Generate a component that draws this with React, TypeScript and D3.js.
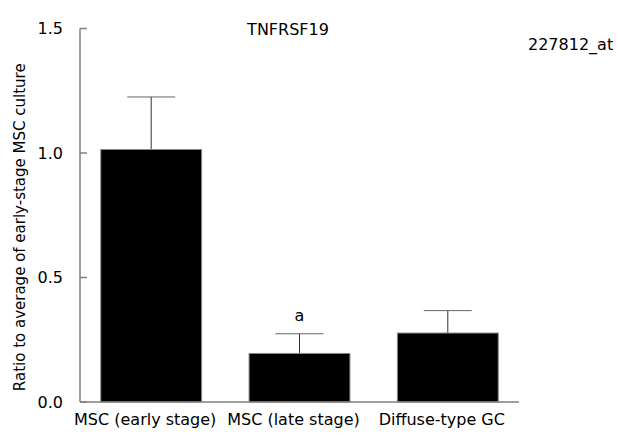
import React from 'react';
import * as d3 from 'd3';

const categories = ['MSC (early stage)', 'MSC (late stage)', 'Diffuse-type GC'];
const means = [1.014, 0.195, 0.277];
const errors = [0.211, 0.079, 0.090];
const marks = ['', 'a', ''];
const yTicks = [0, 0.5, 1.0, 1.5];

const FONT = 'DejaVu Sans, Verdana, sans-serif';

export default function App() {
  const width = 617, height = 438;
  const left = 80, right = 519, top = 28.5, bottom = 402;

  const x = d3.scaleBand<string>()
    .domain(categories)
    .range([left, right])
    .paddingInner(0.32)
    .paddingOuter(0.14);

  const y = d3.scaleLinear().domain([0, 1.5]).range([bottom, top]);
  const capW = 48;

  return (
    <svg width={width} height={height} style={{ position: 'absolute', left: 0, top: 0, background: '#fff' }}
      fontFamily={FONT}>
      {/* bars */}
      {categories.map((c, i) => {
        const x0 = x(c)!;
        const cx = x0 + x.bandwidth() / 2;
        const yTop = y(means[i]);
        const yErr = y(means[i] + errors[i]);
        return (
          <g key={c}>
            <line x1={cx} x2={cx} y1={yTop} y2={yErr} stroke="#333" strokeWidth={1} />
            <line x1={cx - capW / 2} x2={cx + capW / 2} y1={yErr} y2={yErr} stroke="#666" strokeWidth={1} />
            <rect x={x0} y={yTop} width={x.bandwidth()} height={bottom - yTop}
              fill="#000" stroke="#888" strokeWidth={1} />
            {marks[i] && (
              <text x={cx} y={yErr - 13} textAnchor="middle" fontSize={16} fill="#000">{marks[i]}</text>
            )}
            <text x={cx - 6} y={425} textAnchor="middle" fontSize={16} fill="#000">{c}</text>
          </g>
        );
      })}

      {/* axes */}
      <line x1={left} x2={left} y1={top} y2={bottom} stroke="#808080" strokeWidth={1.5} />
      <line x1={left} x2={right} y1={bottom} y2={bottom} stroke="#808080" strokeWidth={1.5} />
      {yTicks.map(t => (
        <g key={t}>
          <line x1={left} x2={left + 7} y1={y(t)} y2={y(t)} stroke="#808080" strokeWidth={1.5} />
          <text x={63} y={y(t)} dy="0.36em" textAnchor="end" fontSize={16} fill="#000">
            {d3.format('.1f')(t)}
          </text>
        </g>
      ))}

      <text transform={`translate(25,${(top + bottom) / 2 + 12}) rotate(-90)`} textAnchor="middle"
        fontSize={15} fill="#000">Ratio to average of early-stage MSC culture</text>

      <text x={288} y={35} textAnchor="middle" fontSize={16} fill="#000">TNFRSF19</text>
      <text x={528} y={50} fontSize={16} fill="#000">227812_at</text>
    </svg>
  );
}
